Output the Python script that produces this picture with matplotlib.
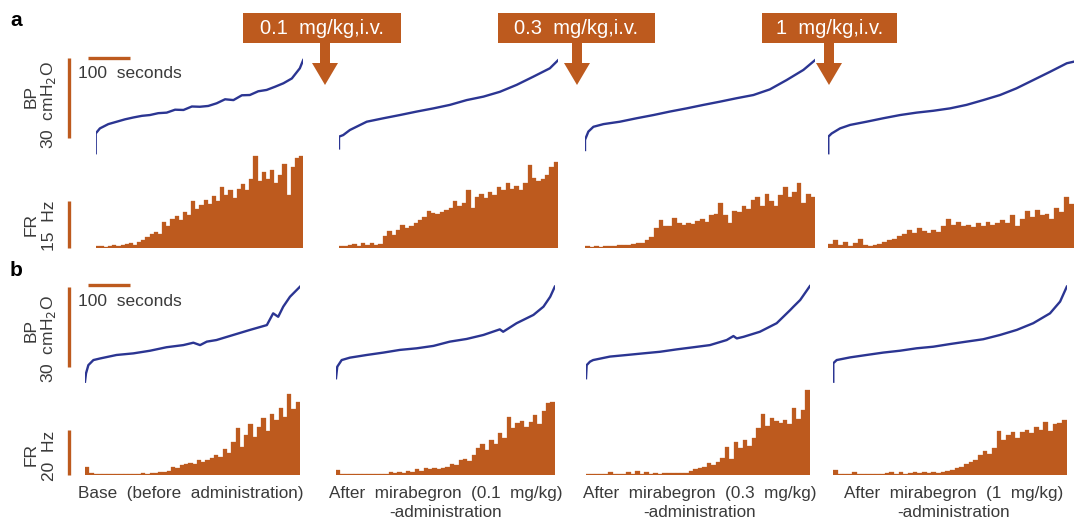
import numpy as np
import matplotlib.pyplot as plt
from matplotlib.patches import Rectangle, FancyArrow

plt.rcParams['font.family'] = ['Liberation Sans', 'DejaVu Sans']

W, H = 1074, 519
orange = '#BD5A1E'
navy = '#2B3592'

# bladder pressure traces, time (s) and pressure (cmH2O, relative to scale bar foot)
bp_a1_t = [0, 0, 10, 30, 50, 70, 90, 110, 129, 149, 169, 189, 209, 229, 248, 268, 288, 308, 328, 348, 367, 387, 407, 427, 447, 467, 486, 494]
bp_a1 = [-5.7, 1.7, 3.6, 5.2, 6.1, 7.0, 7.7, 8.3, 8.6, 9.3, 9.5, 10.6, 10.5, 11.8, 11.7, 12.0, 13.0, 14.5, 14.2, 16.0, 16.1, 17.5, 18.0, 19.2, 20.5, 22.3, 26.1, 29.2]
bp_a2_t = [0, 0, 10, 26, 66, 106, 145, 185, 225, 264, 304, 344, 383, 423, 463, 502, 522]
bp_a2 = [-3.9, 0.5, 1.1, 3.0, 6.1, 7.4, 8.6, 9.9, 11.1, 12.4, 14.2, 15.5, 17.3, 19.9, 23.0, 26.1, 29.2]
bp_a3_t = [0, 0, 8, 20, 44, 83, 123, 163, 202, 242, 282, 321, 361, 401, 440, 480, 520, 548]
bp_a3 = [-4.5, -0.7, 2.4, 4.2, 5.2, 6.1, 7.4, 8.6, 9.9, 11.1, 12.4, 13.6, 14.9, 16.1, 18.2, 21.7, 25.5, 29.2]
bp_a4_t = [0, 0, 8, 28, 52, 91, 131, 171, 210, 250, 290, 329, 369, 409, 448, 488, 528, 568, 585]
bp_a4 = [-5.7, 0.5, 1.7, 3.6, 4.9, 6.1, 7.4, 8.6, 9.5, 10.2, 11.1, 12.4, 14.2, 16.1, 18.6, 21.7, 24.8, 28.0, 28.6]

bp_b1_t = [0, 2.4, 8, 20, 36, 75, 115, 155, 194, 234, 258, 274, 290, 313, 353, 393, 433, 448, 460, 472, 488, 512]
bp_b1 = [-5.5, -2.4, 0.7, 2.6, 3.2, 4.5, 5.1, 6.1, 7.4, 8.2, 9.1, 8.2, 9.5, 10.1, 12.0, 13.9, 15.7, 20.1, 18.8, 22.6, 26.3, 30.1]
bp_b2_t = [0, 3, 13.5, 33, 73, 113, 152, 192, 232, 271, 311, 351, 390, 398, 430, 470, 494, 510, 521]
bp_b2 = [-4.2, 0.1, 2.6, 3.5, 4.5, 5.4, 6.4, 7.0, 7.9, 9.5, 10.5, 12.0, 14.1, 13.2, 16.4, 19.5, 22.6, 26.3, 30.1]
bp_b3_t = [0, 1.6, 9.5, 17, 57, 97, 136, 176, 216, 256, 295, 335, 351, 359, 375, 414, 454, 486, 494, 510, 533]
bp_b3 = [-4.2, 0.7, 2.0, 2.6, 3.9, 4.5, 5.1, 5.7, 6.6, 7.4, 8.2, 10.1, 11.6, 10.7, 11.3, 13.2, 16.4, 21.3, 22.6, 25.1, 30.3]
bp_b4_t = [0, 0, 8, 40, 79, 119, 159, 198, 238, 278, 317, 357, 397, 437, 476, 516, 540, 556]
bp_b4 = [-5.5, 1.4, 2.6, 3.6, 4.5, 5.4, 6.1, 7.0, 7.6, 8.6, 9.5, 10.4, 12.0, 13.9, 16.4, 20.1, 24.5, 30.1]

# firing rate histograms (Hz), 50 equal bins per recording
fr_a1 = [0.8, 0.6, 0.5, 0.8, 1.2, 0.6, 1.0, 1.4, 1.6, 1.2, 2.0, 2.8, 3.5, 4.5, 5.2, 4.6, 8.5, 7.0, 9.5, 10.2,
         9.0, 11.5, 10.5, 15.0, 12.5, 13.8, 15.5, 14.0, 16.8, 15.2, 19.5, 17.0, 18.5, 16.2, 19.0, 20.5, 18.6, 22.0, 29.5, 21.5,
         24.5, 22.0, 25.0, 21.0, 23.5, 27.0, 17.0, 26.0, 29.0, 29.5]
fr_a2 = [0.8, 0.6, 1.0, 1.4, 0.8, 1.8, 1.2, 1.6, 1.0, 1.5, 3.8, 5.5, 4.2, 6.0, 7.5, 6.5, 7.0, 8.2, 9.0, 10.0,
         12.0, 11.2, 11.0, 11.5, 12.2, 13.0, 15.0, 13.5, 14.5, 18.5, 13.0, 16.5, 17.5, 16.0, 18.0, 17.0, 19.5, 18.5, 20.8, 19.0,
         20.0, 18.5, 21.0, 26.5, 22.5, 21.5, 22.0, 23.5, 26.0, 27.5]
fr_a3 = [0.6, 0.4, 0.7, 0.5, 0.6, 0.8, 0.6, 0.9, 1.0, 1.2, 1.4, 1.8, 1.6, 2.5, 3.5, 6.5, 9.0, 7.2, 7.0, 9.8,
         8.0, 7.5, 8.2, 7.8, 8.8, 9.5, 8.5, 10.6, 11.0, 14.5, 10.5, 8.0, 12.0, 11.5, 13.5, 12.5, 15.5, 16.5, 13.5, 17.5,
         15.0, 13.5, 17.0, 19.5, 16.5, 18.0, 21.0, 14.5, 17.5, 16.5]
fr_a4 = [1.5, 2.7, 1.2, 2.0, 0.8, 1.6, 3.0, 1.0, 0.6, 1.0, 1.5, 2.0, 2.5, 3.0, 3.8, 4.5, 5.8, 5.0, 6.4, 5.5,
         5.0, 6.0, 5.2, 7.0, 9.5, 7.5, 8.5, 7.0, 7.5, 6.8, 8.0, 7.2, 8.5, 7.5, 8.0, 9.0, 8.2, 10.5, 7.0, 9.5,
         12.0, 10.0, 12.2, 10.5, 11.0, 9.5, 12.8, 11.5, 16.5, 14.0]

fr_b1 = [3.5, 0.8, 0.5, 0.4, 0.4, 0.3, 0.4, 0.3, 0.4, 0.3, 0.4, 0.5, 0.4, 0.8, 0.6, 1.0, 0.8, 1.2, 1.5, 2.0,
         3.5, 3.0, 4.5, 5.0, 5.5, 5.0, 6.5, 6.0, 6.5, 7.5, 9.0, 8.0, 11.5, 10.0, 14.5, 21.0, 12.5, 18.0, 22.5, 17.0,
         21.5, 25.5, 19.5, 27.0, 24.5, 30.0, 26.0, 36.0, 29.5, 32.5]
fr_b2 = [2.2, 0.5, 0.4, 0.3, 0.4, 0.3, 0.4, 0.3, 0.4, 0.3, 0.4, 0.5, 1.2, 0.8, 1.5, 0.8, 1.6, 1.2, 2.5, 2.0,
         3.0, 2.6, 3.2, 2.8, 3.0, 3.5, 5.0, 4.5, 6.5, 7.0, 6.2, 9.0, 12.0, 14.0, 11.0, 15.5, 14.0, 18.5, 16.5, 26.0,
         21.0, 23.0, 24.0, 21.5, 23.5, 26.5, 22.5, 28.5, 32.0, 32.5]
fr_b3 = [0.3, 0.3, 0.3, 0.3, 0.4, 1.5, 0.3, 0.4, 0.3, 1.4, 0.4, 1.6, 0.6, 1.5, 0.5, 1.0, 0.6, 0.8, 0.8, 0.9,
         0.9, 1.0, 1.0, 2.0, 2.5, 3.0, 3.5, 5.2, 4.5, 6.0, 7.5, 12.5, 7.0, 14.5, 12.0, 15.5, 13.0, 16.5, 21.0, 27.0,
         22.0, 25.5, 24.0, 23.0, 24.5, 22.5, 30.0, 25.0, 29.0, 38.0]
fr_b4 = [2.2, 0.4, 0.3, 0.3, 1.5, 0.3, 0.3, 0.3, 0.3, 0.4, 0.4, 1.0, 1.2, 0.6, 1.2, 0.6, 1.0, 1.2, 1.0, 1.4,
         1.0, 1.3, 1.0, 1.5, 1.6, 2.2, 3.0, 3.7, 4.8, 6.0, 6.5, 9.0, 10.5, 9.5, 12.0, 19.5, 15.5, 18.0, 19.0, 16.5,
         19.0, 20.0, 18.5, 21.5, 20.0, 23.5, 19.5, 22.5, 23.0, 24.5]

dur_a = [494, 522, 548, 585]
dur_b = [512, 521, 533, 556]

doses = ['0.1  mg/kg,i.v.', '0.3  mg/kg,i.v.', '1  mg/kg,i.v.']
conditions = ['Base  (before  administration)',
              'After  mirabegron  (0.1  mg/kg)\n-administration',
              'After  mirabegron  (0.3  mg/kg)\n-administration',
              'After  mirabegron  (1  mg/kg)\n-administration']

# layout in pixels
s_px = 0.42          # px per second
cm_px = 2.67         # px per cmH2O
start_a = [95.7, 339, 585, 828.3]
start_b = [85, 336, 586, 833.3]
bp_zero = {'a': 138, 'b': 367}
fr_zero = {'a': 248.3, 'b': 475}
hz_px = {'a': 3.13, 'b': 2.25}
fr_top = {'a': 32, 'b': 42}

fig = plt.figure(figsize=(W / 100, H / 100), dpi=100)
over = fig.add_axes([0, 0, 1, 1])
over.set_xlim(0, W)
over.set_ylim(H, 0)
over.axis('off')


def px_axes(x0, top, x1, bottom):
    ax = fig.add_axes([x0 / W, 1 - bottom / H, (x1 - x0) / W, (bottom - top) / H])
    ax.axis('off')
    ax.patch.set_alpha(0)
    return ax


rows = {
    'a': (start_a, dur_a, [(bp_a1_t, bp_a1), (bp_a2_t, bp_a2), (bp_a3_t, bp_a3), (bp_a4_t, bp_a4)],
          [fr_a1, fr_a2, fr_a3, fr_a4]),
    'b': (start_b, dur_b, [(bp_b1_t, bp_b1), (bp_b2_t, bp_b2), (bp_b3_t, bp_b3), (bp_b4_t, bp_b4)],
          [fr_b1, fr_b2, fr_b3, fr_b4]),
}
fr_scale = {'a': 15, 'b': 20}

for key, (starts, durs, bps, frs) in rows.items():
    for i in range(4):
        x0 = starts[i]
        x1 = x0 + durs[i] * s_px
        # BP
        z = bp_zero[key]
        ax = px_axes(x0, z - 32 * cm_px, x1, z + 8 * cm_px)
        ax.set_xlim(0, durs[i])
        ax.set_ylim(-8, 32)
        ax.plot(bps[i][0], bps[i][1], color=navy, lw=1.7, solid_joinstyle='round')
        if i == 0:
            xb = (69 - x0) / s_px
            ax.plot([xb, xb], [0, 30], color=orange, lw=2.4, clip_on=False, solid_capstyle='butt')
            hx = (88 - x0) / s_px
            hy = (z - (58 if key == 'a' else 285)) / cm_px
            ax.plot([hx, hx + 100], [hy, hy], color=orange, lw=2.4, clip_on=False, solid_capstyle='butt')
        # FR
        fz = fr_zero[key]
        fax = px_axes(x0, fz - fr_top[key] * hz_px[key], x1, fz)
        fax.set_xlim(0, durs[i])
        fax.set_ylim(0, fr_top[key])
        vals = np.array(frs[i])
        w = durs[i] / len(vals)
        fax.bar(np.arange(len(vals)) * w, vals, width=w, align='edge', color=orange,
                edgecolor=orange, linewidth=0.2)
        if i == 0:
            xb = (69 - x0) / s_px
            fax.plot([xb, xb], [0, fr_scale[key]], color=orange, lw=2.4, clip_on=False,
                     solid_capstyle='butt')

# scale bar labels and side labels
fs = 12.5
txt = '#3a3a3a'
over.text(78, 74, '100  seconds', fontsize=fs, color=txt, va='center', ha='left')
over.text(78, 302, '100  seconds', fontsize=fs, color=txt, va='center', ha='left')
for y_bp, y_fr, hz in [(100, 224, '15  Hz'), (334, 454, '20  Hz')]:
    over.text(31, y_bp - 3, 'BP', rotation=90, fontsize=fs, color=txt, ha='center', va='center')
    over.text(49, y_bp + 5, '30  cmH$_2$O', rotation=90, fontsize=fs, color=txt,
              ha='center', va='center')
    over.text(31, y_fr, 'FR', rotation=90, fontsize=fs, color=txt, ha='center', va='center')
    over.text(49, y_fr + 2, hz, rotation=90, fontsize=fs, color=txt, ha='center', va='center')

over.text(10, 21, 'a', fontsize=15, fontweight='bold', va='center', ha='left')
over.text(10, 270, 'b', fontsize=15, fontweight='bold', va='center', ha='left')

# dose boxes and arrows
boxes = [(243, 401, 325), (498, 655, 577), (762, 897, 829)]
for (bx0, bx1, ax_x), label in zip(boxes, doses):
    over.add_patch(Rectangle((bx0, 13), bx1 - bx0, 30, color=orange, lw=0))
    over.text((bx0 + bx1) / 2, 29, label, color='white', fontsize=14.5, ha='center', va='center')
    over.add_patch(FancyArrow(ax_x, 42, 0, 43, width=10, head_width=26, head_length=22,
                              length_includes_head=True, color=orange, lw=0))

# condition labels
centers = [191, 446, 700, 954]
for cx, lab in zip(centers, conditions):
    over.text(cx, 486, lab, fontsize=12.3, color=txt, ha='center', va='top',
              multialignment='center', linespacing=1.3)

fig.savefig('out.png', dpi=100)
